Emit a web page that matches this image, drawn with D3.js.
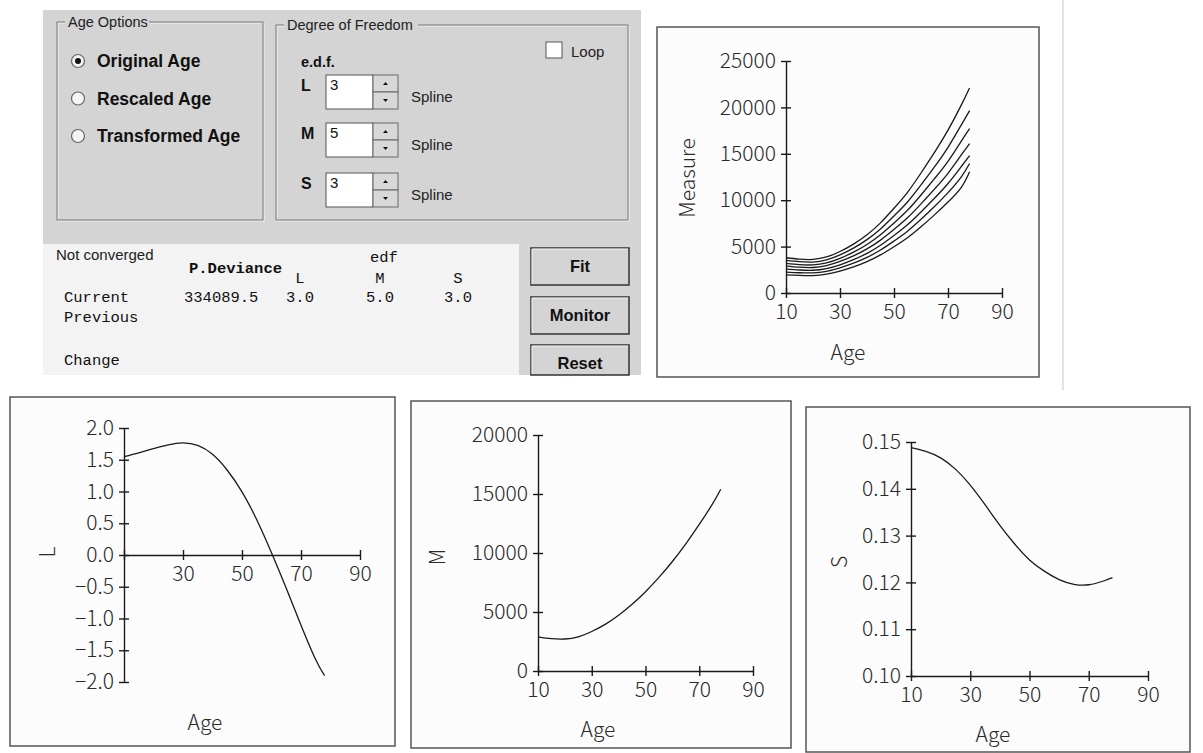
<!DOCTYPE html>
<html>
<head>
<meta charset="utf-8">
<script src="https://cdn.jsdelivr.net/npm/d3@7"></script>
<style>
  body { margin: 0; background: #fff; }
  svg { display: block; }
</style>
</head>
<body>
<script>
// ---- data ----
const ages = [10, 15, 20, 25, 30, 35, 40, 45, 50, 55, 60, 65, 70, 75, 78];

// fitted L, M, S curves
const lValues = [1.55, 1.61, 1.675, 1.735, 1.765, 1.725, 1.585, 1.335, 0.995, 0.555, 0.035, -0.525, -1.105, -1.65, -1.9];
const mValues = [2900, 2740, 2710, 2900, 3350, 3950, 4720, 5650, 6720, 7930, 9280, 10780, 12420, 14180, 15400];
const sValues = [0.1488, 0.1480, 0.1466, 0.1442, 0.1408, 0.1366, 0.1322, 0.1282, 0.1248, 0.1224, 0.1206, 0.1196, 0.1195, 0.1203, 0.1210];

// centile curves in the Measure plot
const c3  = [1950, 1890, 1880, 2040, 2370, 2820, 3390, 4110, 4990, 5960, 7140, 8420, 9800, 11420, 13070];
const c10 = [2260, 2180, 2170, 2340, 2710, 3210, 3840, 4630, 5600, 6660, 7940, 9320, 10810, 12550, 13950];
const c25 = [2580, 2480, 2450, 2630, 3040, 3590, 4270, 5140, 6200, 7350, 8730, 10210, 11800, 13660, 14800];
const c50 = [2900, 2780, 2750, 2950, 3400, 4000, 4750, 5700, 6850, 8100, 9600, 11200, 12900, 14900, 16100];
const c75 = [3190, 3060, 3030, 3250, 3740, 4400, 5230, 6270, 7540, 8910, 10560, 12320, 14190, 16400, 17700];
const c90 = [3510, 3370, 3330, 3570, 4110, 4840, 5750, 6900, 8300, 9810, 11640, 13590, 15700, 18150, 19650];
const c97 = [3800, 3650, 3620, 3880, 4470, 5270, 6280, 7560, 9130, 10850, 12930, 15150, 17550, 20300, 22100];

// tick labels
const ageTicks = [10, 30, 50, 70, 90];
const measureTicks = [0, 5000, 10000, 15000, 20000, 25000];
const lTicks = [-2, -1.5, -1, -0.5, 0, 0.5, 1, 1.5, 2];
const mTicks = [0, 5000, 10000, 15000, 20000];
const sTicks = [0.10, 0.11, 0.12, 0.13, 0.14, 0.15];

// dialog texts
const ageOptions = ["Original Age", "Rescaled Age", "Transformed Age"];
const edfParams = ["L", "M", "S"];
const edfValues = [3, 5, 3];
const buttons = ["Fit", "Monitor", "Reset"];

const W = 1203, H = 753;
const svg = d3.select("body").append("svg").attr("width", W).attr("height", H);

const chartFont = "'Noto Sans CJK JP', 'Noto Sans', sans-serif";
const uiFont = "'Liberation Sans', Arial, sans-serif";
const monoFont = "'Liberation Mono', 'Courier New', monospace";

// ---------- dialog panel ----------
const ui = svg.append("g");
ui.append("rect").attr("x", 43).attr("y", 10).attr("width", 598).attr("height", 365).attr("fill", "#d4d4d4");

function groupBox(x, y, w, h, title, tw) {
  ui.append("rect").attr("x", x + 1).attr("y", y + 1).attr("width", w).attr("height", h)
    .attr("fill", "none").attr("stroke", "#f4f4f4");
  ui.append("rect").attr("x", x).attr("y", y).attr("width", w).attr("height", h)
    .attr("fill", "none").attr("stroke", "#777");
  ui.append("rect").attr("x", x + 8).attr("y", y - 8).attr("width", tw).attr("height", 16).attr("fill", "#d4d4d4");
  ui.append("text").attr("x", x + 11).attr("y", y + 5).attr("font-family", uiFont)
    .attr("font-size", 14.5).attr("fill", "#222").text(title);
}
groupBox(57, 22, 206, 198, "Age Options", 84);
groupBox(276, 25, 352, 195, "Degree of Freedom", 134);

// radio buttons
ageOptions.forEach((t, i) => {
  const cy = 61 + i * 37.5;
  ui.append("circle").attr("cx", 78).attr("cy", cy).attr("r", 6.5)
    .attr("fill", "#f4f4f4").attr("stroke", "#666").attr("stroke-width", 1.2);
  if (i === 0) ui.append("circle").attr("cx", 78).attr("cy", cy).attr("r", 3).attr("fill", "#111");
  ui.append("text").attr("x", 97).attr("y", cy + 6).attr("font-family", uiFont)
    .attr("font-weight", "bold").attr("font-size", 17.5).attr("fill", "#111").text(t);
});

// e.d.f. spinners
ui.append("text").attr("x", 301).attr("y", 67).attr("font-family", uiFont)
  .attr("font-weight", "bold").attr("font-size", 14.5).attr("fill", "#111").text("e.d.f.");
const rowTops = [75, 123, 173];
edfParams.forEach((p, i) => {
  const y0 = rowTops[i];
  ui.append("text").attr("x", 301).attr("y", y0 + 16).attr("font-family", uiFont)
    .attr("font-weight", "bold").attr("font-size", 16).attr("fill", "#111").text(p);
  ui.append("rect").attr("x", 326).attr("y", y0).attr("width", 47).attr("height", 34)
    .attr("fill", "#fff").attr("stroke", "#555");
  ui.append("text").attr("x", 330).attr("y", y0 + 15).attr("font-family", uiFont)
    .attr("font-size", 15).attr("fill", "#111").text(edfValues[i]);
  [0, 1].forEach(k => {
    const by = y0 + k * 17;
    ui.append("rect").attr("x", 373).attr("y", by).attr("width", 25).attr("height", 17)
      .attr("fill", "#d8d8d8").attr("stroke", "#666");
    const cx = 385.5, cy = by + 8.5;
    const pts = k === 0 ? [[cx - 2.5, cy + 1.5], [cx + 2.5, cy + 1.5], [cx, cy - 1.5]]
                        : [[cx - 2.5, cy - 1.5], [cx + 2.5, cy - 1.5], [cx, cy + 1.5]];
    ui.append("polygon").attr("points", pts.join(" ")).attr("fill", "#111");
  });
  ui.append("text").attr("x", 411).attr("y", y0 + 27).attr("font-family", uiFont)
    .attr("font-size", 15).attr("fill", "#222").text("Spline");
});

// loop check box
ui.append("rect").attr("x", 546).attr("y", 42).attr("width", 16).attr("height", 16)
  .attr("fill", "#fff").attr("stroke", "#555");
ui.append("text").attr("x", 571).attr("y", 57).attr("font-family", uiFont)
  .attr("font-size", 15).attr("fill", "#222").text("Loop");

// results box
ui.append("rect").attr("x", 43).attr("y", 244).attr("width", 476).attr("height", 131).attr("fill", "#f3f3f3");
ui.append("text").attr("x", 56).attr("y", 260).attr("font-family", uiFont)
  .attr("font-size", 15).attr("fill", "#222").text("Not converged");
const mono = (x, y, t, bold, anchor) => ui.append("text").attr("x", x).attr("y", y)
  .attr("font-family", monoFont).attr("font-size", 15.5).attr("fill", "#111")
  .attr("font-weight", bold ? "bold" : "normal").attr("text-anchor", anchor || "start").text(t);
mono(189, 273, "P.Deviance", true);
mono(370, 262, "edf");
const cols = [300, 380, 458];
edfParams.forEach((p, i) => mono(cols[i], 283, p, false, "middle"));
mono(64, 302, "Current");
mono(184, 302, "334089.5");
edfValues.forEach((v, i) => mono(cols[i], 302, v.toFixed(1), false, "middle"));
mono(64, 322, "Previous");
mono(64, 365, "Change");

// buttons
const btnTops = [248, 297, 345];
buttons.forEach((b, i) => {
  const y0 = btnTops[i], h = i === 2 ? 30 : 37;
  ui.append("rect").attr("x", 531).attr("y", y0).attr("width", 98).attr("height", h)
    .attr("fill", "#d4d4d4").attr("stroke", "#333").attr("stroke-width", 1.5);
  ui.append("path").attr("d", `M532,${y0 + h - 1}V${y0 + 1}H628`).attr("fill", "none").attr("stroke", "#f5f5f5");
  ui.append("text").attr("x", 580).attr("y", y0 + 24).attr("text-anchor", "middle")
    .attr("font-family", uiFont).attr("font-weight", "bold").attr("font-size", 16.5)
    .attr("fill", "#111").text(b);
});

// faint scan edge at right
svg.append("line").attr("x1", 1063).attr("x2", 1063).attr("y1", 0).attr("y2", 390)
  .attr("stroke", "#e2e2e2").attr("stroke-width", 2);

// ---------- plots ----------
function plot(cfg) {
  const g = svg.append("g");
  g.append("rect").attr("x", cfg.frame[0]).attr("y", cfg.frame[1])
    .attr("width", cfg.frame[2]).attr("height", cfg.frame[3])
    .attr("fill", "#fcfcfc").attr("stroke", "#555").attr("stroke-width", 1.5);

  const x = d3.scaleLinear().domain([10, 90]).range(cfg.xRange);
  const y = d3.scaleLinear().domain(cfg.yDomain).range(cfg.yRange);

  const xAxis = d3.axisBottom(x).tickValues(ageTicks).tickSize(5).tickSizeOuter(0).tickPadding(6)
    .tickFormat(d => (cfg.hideX10 && d === 10) ? "" : d);
  const gx = g.append("g").attr("transform", `translate(0,${y(cfg.xAt)})`).call(xAxis);
  gx.selectAll(".tick line").attr("y1", -5);

  const yAxis = d3.axisLeft(y).tickValues(cfg.yTicks).tickSize(5).tickSizeOuter(0).tickPadding(5)
    .tickFormat(cfg.yFormat);
  const gy = g.append("g").attr("transform", `translate(${x(10)},0)`).call(yAxis);
  gy.selectAll(".tick line").attr("x1", 5);

  [gx, gy].forEach(a => {
    a.attr("font-family", chartFont).attr("font-size", 21).attr("font-weight", 300);
    a.selectAll("text").attr("fill", "#2a2a2a");
    a.selectAll("line, .domain").attr("stroke", "#1a1a1a").attr("stroke-width", 1.4);
  });

  const line = d3.line().x((d, i) => x(ages[i])).y(d => y(d)).curve(d3.curveNatural);
  cfg.series.forEach(s => {
    g.append("path").attr("d", line(s)).attr("fill", "none")
      .attr("stroke", "#1a1a1a").attr("stroke-width", 1.3);
  });

  g.append("text").attr("x", cfg.xLabel[0]).attr("y", cfg.xLabel[1]).attr("text-anchor", "middle")
    .attr("font-family", chartFont).attr("font-size", 21).attr("font-weight", 300)
    .attr("fill", "#2a2a2a").text("Age");
  g.append("text").attr("transform", `translate(${cfg.yLabel[0]},${cfg.yLabel[1]}) rotate(-90)`)
    .attr("text-anchor", "middle").attr("dy", "0.35em")
    .attr("font-family", chartFont).attr("font-size", 21).attr("font-weight", 300)
    .attr("fill", "#2a2a2a").text(cfg.yTitle);
}

plot({
  frame: [657, 27, 382, 350],
  xRange: [786, 1002], yDomain: [0, 25000], yRange: [293, 61], xAt: 0,
  yTicks: measureTicks, yFormat: d => d,
  series: [c3, c10, c25, c50, c75, c90, c97],
  xLabel: [848, 360], yLabel: [688, 178], yTitle: "Measure"
});

plot({
  frame: [10, 397, 385, 349],
  xRange: [124, 360], yDomain: [-2, 2], yRange: [682, 428], xAt: 0, hideX10: true,
  yTicks: lTicks, yFormat: d3.format(".1f"),
  series: [lValues],
  xLabel: [205, 730], yLabel: [48, 552], yTitle: "L"
});

plot({
  frame: [411, 401, 380, 347],
  xRange: [538, 753], yDomain: [0, 20000], yRange: [671, 435], xAt: 0,
  yTicks: mTicks, yFormat: d => d,
  series: [mValues],
  xLabel: [598, 737], yLabel: [438, 557], yTitle: "M"
});

plot({
  frame: [806, 407, 384, 345],
  xRange: [911, 1148], yDomain: [0.10, 0.15], yRange: [676, 442], xAt: 0.10,
  yTicks: sTicks, yFormat: d3.format(".2f"),
  series: [sValues],
  xLabel: [993, 742], yLabel: [840, 562], yTitle: "S"
});
</script>
</body>
</html>
